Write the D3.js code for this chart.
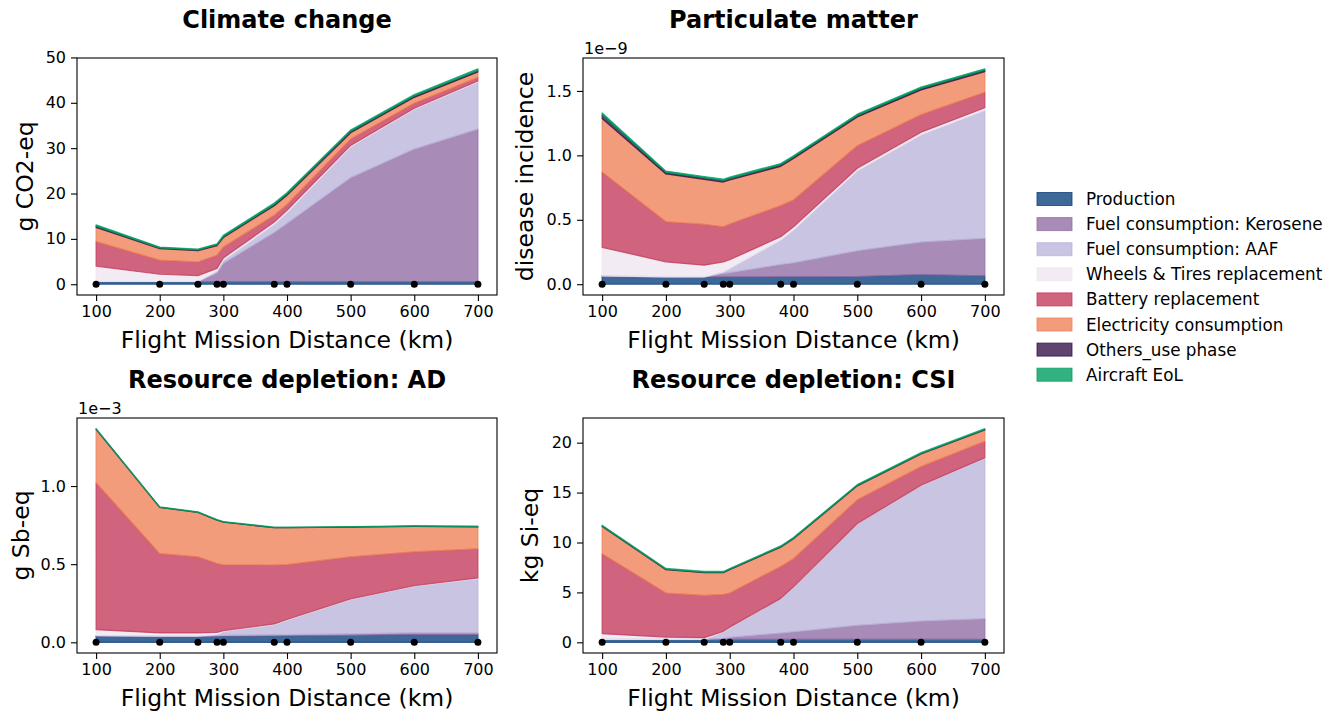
<!DOCTYPE html>
<html>
<head>
<meta charset="utf-8">
<script src="https://cdn.jsdelivr.net/npm/d3@7"></script>
<style>
  body { margin: 0; background: #fff; }
  svg { font-family: "DejaVu Sans", sans-serif; }
</style>
</head>
<body>
<div id="chart"></div>
<script>
const distances = [100, 200, 260, 290, 300, 380, 400, 500, 600, 700];
const missionPoints = [100, 200, 260, 290, 300, 380, 400, 500, 600, 700];
const xTicks = [100, 200, 300, 400, 500, 600, 700];

const seriesNames = [
  "Production",
  "Fuel consumption: Kerosene",
  "Fuel consumption: AAF",
  "Wheels & Tires replacement",
  "Battery replacement",
  "Electricity consumption",
  "Others_use phase",
  "Aircraft EoL"
];
const seriesColors = ["#0e427e", "#946ea6", "#bab5db", "#f0e6f0", "#c43c5c", "#ef835a", "#37154c", "#009f5f"];

// g CO2-eq, one row per series (same order as seriesNames)
const climateValues = [
  [0.6, 0.6, 0.6, 0.6, 0.6, 0.6, 0.6, 0.6, 0.6, 0.6],
  [0, 0, 0, 1.9, 4.0, 10.8, 12.8, 22.9, 29.2, 33.6],
  [0, 0, 0, 0.4, 0.7, 1.8, 2.4, 6.8, 8.8, 10.4],
  [3.4, 1.6, 1.3, 0.6, 0.5, 0.5, 0.5, 0.3, 0.2, 0.2],
  [5.4, 3.1, 3.0, 2.9, 2.4, 1.5, 1.3, 1.4, 1.1, 0.8],
  [3.1, 2.55, 2.5, 2.1, 2.1, 2.1, 2.0, 1.4, 1.3, 1.2],
  [0.3, 0.15, 0.15, 0.2, 0.2, 0.3, 0.3, 0.3, 0.3, 0.3],
  [0.3, 0.2, 0.2, 0.2, 0.3, 0.3, 0.3, 0.3, 0.3, 0.4]
];

// disease incidence, in units of 1e-9
const pmValues = [
  [0.065, 0.057, 0.057, 0.057, 0.057, 0.058, 0.058, 0.06, 0.075, 0.065],
  [0, 0, 0, 0.026, 0.033, 0.095, 0.108, 0.2, 0.252, 0.291],
  [0, 0, 0, 0.013, 0.032, 0.19, 0.254, 0.62, 0.833, 0.994],
  [0.221, 0.117, 0.091, 0.078, 0.068, 0.026, 0.025, 0.02, 0.02, 0.02],
  [0.584, 0.311, 0.317, 0.272, 0.277, 0.241, 0.209, 0.175, 0.136, 0.12],
  [0.415, 0.371, 0.349, 0.347, 0.342, 0.305, 0.321, 0.223, 0.192, 0.16],
  [0.03, 0.012, 0.012, 0.012, 0.012, 0.012, 0.012, 0.012, 0.012, 0.012],
  [0.015, 0.01, 0.01, 0.01, 0.01, 0.01, 0.01, 0.01, 0.01, 0.01]
];

// g Sb-eq, in units of 1e-3
const adValues = [
  [0.043, 0.04, 0.04, 0.04, 0.04, 0.042, 0.042, 0.045, 0.05, 0.049],
  [0, 0, 0, 0.002, 0.004, 0.006, 0.007, 0.009, 0.011, 0.011],
  [0, 0, 0, 0.008, 0.026, 0.065, 0.092, 0.22, 0.298, 0.348],
  [0.038, 0.02, 0.02, 0.014, 0.005, 0.005, 0.005, 0.004, 0.004, 0.004],
  [0.94, 0.508, 0.487, 0.44, 0.421, 0.376, 0.351, 0.269, 0.216, 0.186],
  [0.342, 0.295, 0.284, 0.278, 0.273, 0.239, 0.236, 0.19, 0.163, 0.141],
  [0.001, 0.001, 0.001, 0.001, 0.001, 0.001, 0.001, 0.001, 0.001, 0.001],
  [0.003, 0.003, 0.003, 0.003, 0.003, 0.003, 0.003, 0.003, 0.003, 0.003]
];

// kg Si-eq
const csiValues = [
  [0.3, 0.3, 0.3, 0.3, 0.3, 0.3, 0.3, 0.3, 0.3, 0.3],
  [0, 0, 0, 0.1, 0.2, 0.63, 0.75, 1.4, 1.83, 2.07],
  [0, 0, 0, 0.63, 0.97, 3.44, 4.48, 10.17, 13.57, 16.1],
  [0.57, 0.23, 0.17, 0.07, 0.05, 0.03, 0.03, 0.03, 0.03, 0.03],
  [8.0, 4.4, 4.23, 3.7, 3.41, 3.2, 2.81, 2.37, 1.87, 1.63],
  [2.73, 2.34, 2.27, 2.17, 2.34, 1.93, 2.0, 1.4, 1.27, 1.14],
  [0.05, 0.05, 0.05, 0.05, 0.05, 0.05, 0.05, 0.05, 0.05, 0.05],
  [0.08, 0.08, 0.08, 0.08, 0.08, 0.08, 0.08, 0.08, 0.08, 0.08]
];

const climateTicks = [0, 10, 20, 30, 40, 50];
const pmTicks = [0, 0.5, 1.0, 1.5];
const adTicks = [0, 0.5, 1.0];
const csiTicks = [0, 5, 10, 15, 20];

const panels = [
  { title: "Climate change", ylabel: "g CO2-eq", values: climateValues, ticks: climateTicks, fmt: d3.format("d"), offset: null, col: 0, row: 0, labelX: 33 },
  { title: "Particulate matter", ylabel: "disease incidence", values: pmValues, ticks: pmTicks, fmt: d3.format(".1f"), offset: "1e\u22129", col: 1, row: 0, labelX: 533 },
  { title: "Resource depletion: AD", ylabel: "g Sb-eq", values: adValues, ticks: adTicks, fmt: d3.format(".1f"), offset: "1e\u22123", col: 0, row: 1, labelX: 29 },
  { title: "Resource depletion: CSI", ylabel: "kg Si-eq", values: csiValues, ticks: csiTicks, fmt: d3.format("d"), offset: null, col: 1, row: 1, labelX: 538 }
];

const W = 1338, H = 712;
const colX = [[77, 497], [583, 1004]];
const rowY = [[58, 295], [418, 653]];

const svg = d3.select("#chart").append("svg")
  .attr("width", W)
  .attr("height", H);

panels.forEach(p => {
  const [x0, x1] = colX[p.col];
  const [y0, y1] = rowY[p.row];

  const rows = distances.map((d, i) => {
    const r = { dist: d };
    seriesNames.forEach((s, k) => { r[s] = p.values[k][i]; });
    return r;
  });
  const stacked = d3.stack().keys(seriesNames)(rows);
  const top = d3.max(stacked[stacked.length - 1], d => d[1]);

  const x = d3.scaleLinear().domain([100 - 30, 700 + 30]).range([x0, x1]);
  const y = d3.scaleLinear().domain([-top * 0.05, top * 1.05]).range([y1, y0]);

  const g = svg.append("g");

  const area = d3.area()
    .x(d => x(d.data.dist))
    .y0(d => y(d[0]))
    .y1(d => y(d[1]));

  g.selectAll("path.layer")
    .data(stacked)
    .enter().append("path")
    .attr("class", "layer")
    .attr("d", area)
    .attr("fill", (d, i) => seriesColors[i])
    .attr("fill-opacity", 0.8)
    .attr("stroke", (d, i) => seriesColors[i])
    .attr("stroke-opacity", 0.8)
    .attr("stroke-width", 1.2)
    .attr("stroke-linejoin", "round");

  g.selectAll("circle.pt")
    .data(missionPoints)
    .enter().append("circle")
    .attr("cx", d => x(d))
    .attr("cy", y(0))
    .attr("r", 3.5)
    .attr("fill", "#000");

  // x axis
  const gx = g.append("g")
    .attr("transform", `translate(0,${y1})`)
    .call(d3.axisBottom(x).tickValues(xTicks).tickSize(6).tickPadding(5));
  gx.select(".domain").remove();

  // y axis
  const gy = g.append("g")
    .attr("transform", `translate(${x0},0)`)
    .call(d3.axisLeft(y).tickValues(p.ticks).tickFormat(p.fmt).tickSize(6).tickPadding(5));
  gy.select(".domain").remove();

  [gx, gy].forEach(a => {
    a.attr("font-family", "DejaVu Sans, sans-serif").attr("font-size", 16);
    a.selectAll("line").attr("stroke", "#000").attr("stroke-width", 1.1);
    a.selectAll("text").attr("fill", "#000");
  });

  g.append("rect")
    .attr("x", x0).attr("y", y0)
    .attr("width", x1 - x0).attr("height", y1 - y0)
    .attr("fill", "none")
    .attr("stroke", "#000")
    .attr("stroke-width", 1.1);

  g.append("text")
    .attr("x", (x0 + x1) / 2)
    .attr("y", y0 - 30)
    .attr("text-anchor", "middle")
    .attr("font-size", 24)
    .attr("font-weight", "bold")
    .text(p.title);

  g.append("text")
    .attr("x", (x0 + x1) / 2)
    .attr("y", y1 + 53)
    .attr("text-anchor", "middle")
    .attr("font-size", 23.5)
    .text("Flight Mission Distance (km)");

  g.append("text")
    .attr("transform", `translate(${p.labelX},${(y0 + y1) / 2}) rotate(-90)`)
    .attr("text-anchor", "middle")
    .attr("font-size", 23.5)
    .text(p.ylabel);

  if (p.offset) {
    g.append("text")
      .attr("x", x0 + 1)
      .attr("y", y0 - 4)
      .attr("font-size", 16)
      .text(p.offset);
  }
});

// legend
const legend = svg.append("g").attr("transform", "translate(1037,199)");
seriesNames.forEach((s, i) => {
  const row = legend.append("g").attr("transform", `translate(0,${i * 25.1})`);
  row.append("rect")
    .attr("x", 0).attr("y", -6.5)
    .attr("width", 35).attr("height", 13)
    .attr("fill", seriesColors[i])
    .attr("fill-opacity", 0.8)
    .attr("stroke", seriesColors[i])
    .attr("stroke-opacity", 0.8);
  row.append("text")
    .attr("x", 49)
    .attr("y", 0)
    .attr("dominant-baseline", "central")
    .attr("font-size", 16.8)
    .text(s);
});
</script>
</body>
</html>
